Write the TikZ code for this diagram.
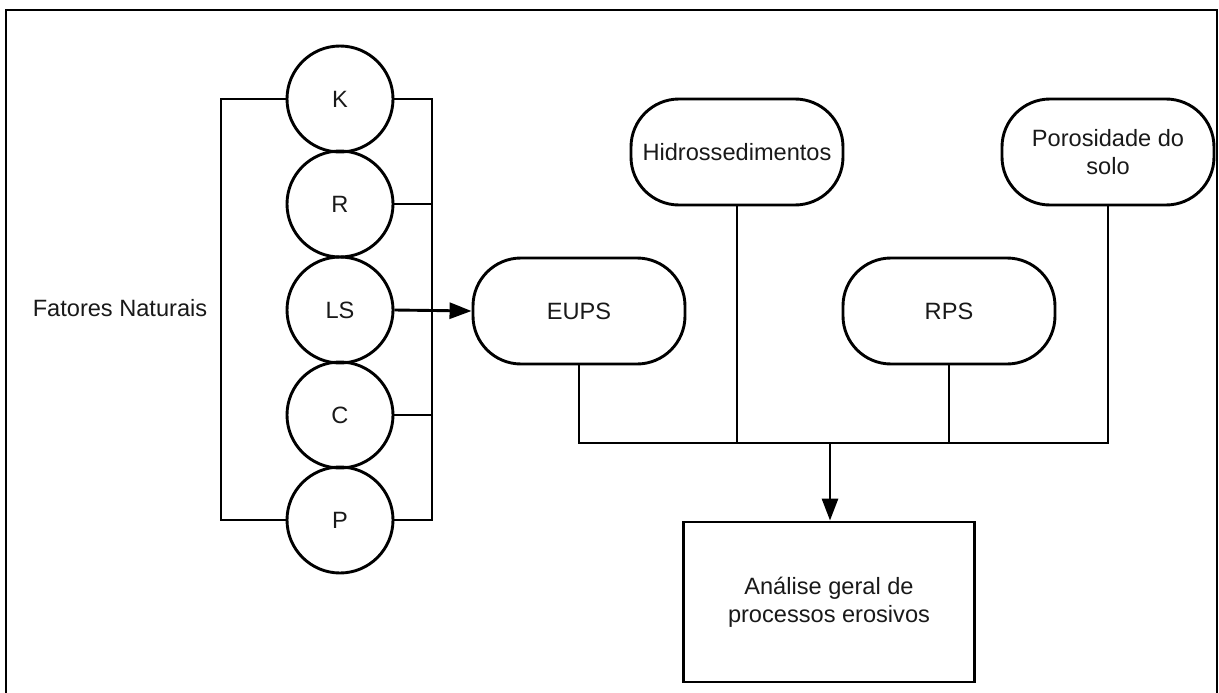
\documentclass[tikz,border=0pt]{standalone}
\usepackage{fontspec}
\setmainfont{Liberation Sans}
\usetikzlibrary{arrows.meta}
\begin{document}
\begin{tikzpicture}[x=1pt,y=-1pt,
  every node/.style={font=\fontsize{23.6}{28}\selectfont, text=black!90},
  ln/.style={line width=2.9pt},
  circ/.style={circle, draw, ln, minimum size=106pt, inner sep=0pt},
  pill/.style={rectangle, draw, ln, rounded corners=48pt, minimum width=212pt, minimum height=106pt, inner sep=0pt, align=center},
  boxnode/.style={rectangle, draw, ln, minimum width=291pt, minimum height=160pt, inner sep=0pt, align=center},
  arr/.style={ln, -{Triangle[length=22pt,width=16pt]}}
]
\useasboundingbox (0,0) rectangle (1219,693);
\draw[line width=2.2pt] (6,705) -- (6,10) -- (1217,10) -- (1217,705);

\node[circ] (K) at (340,99) {K};
\node[circ] (R) at (340,204) {R};
\node[circ] (LS) at (340,310) {LS};
\node[circ] (C) at (340,415) {C};
\node[circ] (P) at (340,520) {P};

\node (fn) at (120,308) {Fatores Naturais};

\node[pill] (EUPS) at (579,311) {EUPS};
\node[pill] (HID) at (737,152) {Hidrossedimentos};
\node[pill] (RPS) at (949,311) {RPS};
\node[pill] (POR) at (1108,152) {Porosidade do\\solo};
\node[boxnode] (AN) at (829,602) {Análise geral de\\processos erosivos};

\coordinate (lb) at (221,99);
\coordinate (rb) at (432,99);
\coordinate (j) at (830,443);

% left bracket
\draw[ln] (K.west) -- (lb) |- (P.west);
% right bracket
\draw[ln] (K.east) -- (rb) |- (P.east);
\draw[ln] (R.east) -- (R.east -| rb);
\draw[ln] (C.east) -- (C.east -| rb);
% LS to EUPS
\draw[arr] (LS.east) -- (EUPS.west);

% bottom merge
\draw[ln] (EUPS.south) -- (EUPS.south |- j) -- (POR.south |- j) -- (POR.south);
\draw[ln] (HID.south) -- (HID.south |- j);
\draw[ln] (RPS.south) -- (RPS.south |- j);
\draw[arr] (j) -- (j |- AN.north);
\end{tikzpicture}
\end{document}
